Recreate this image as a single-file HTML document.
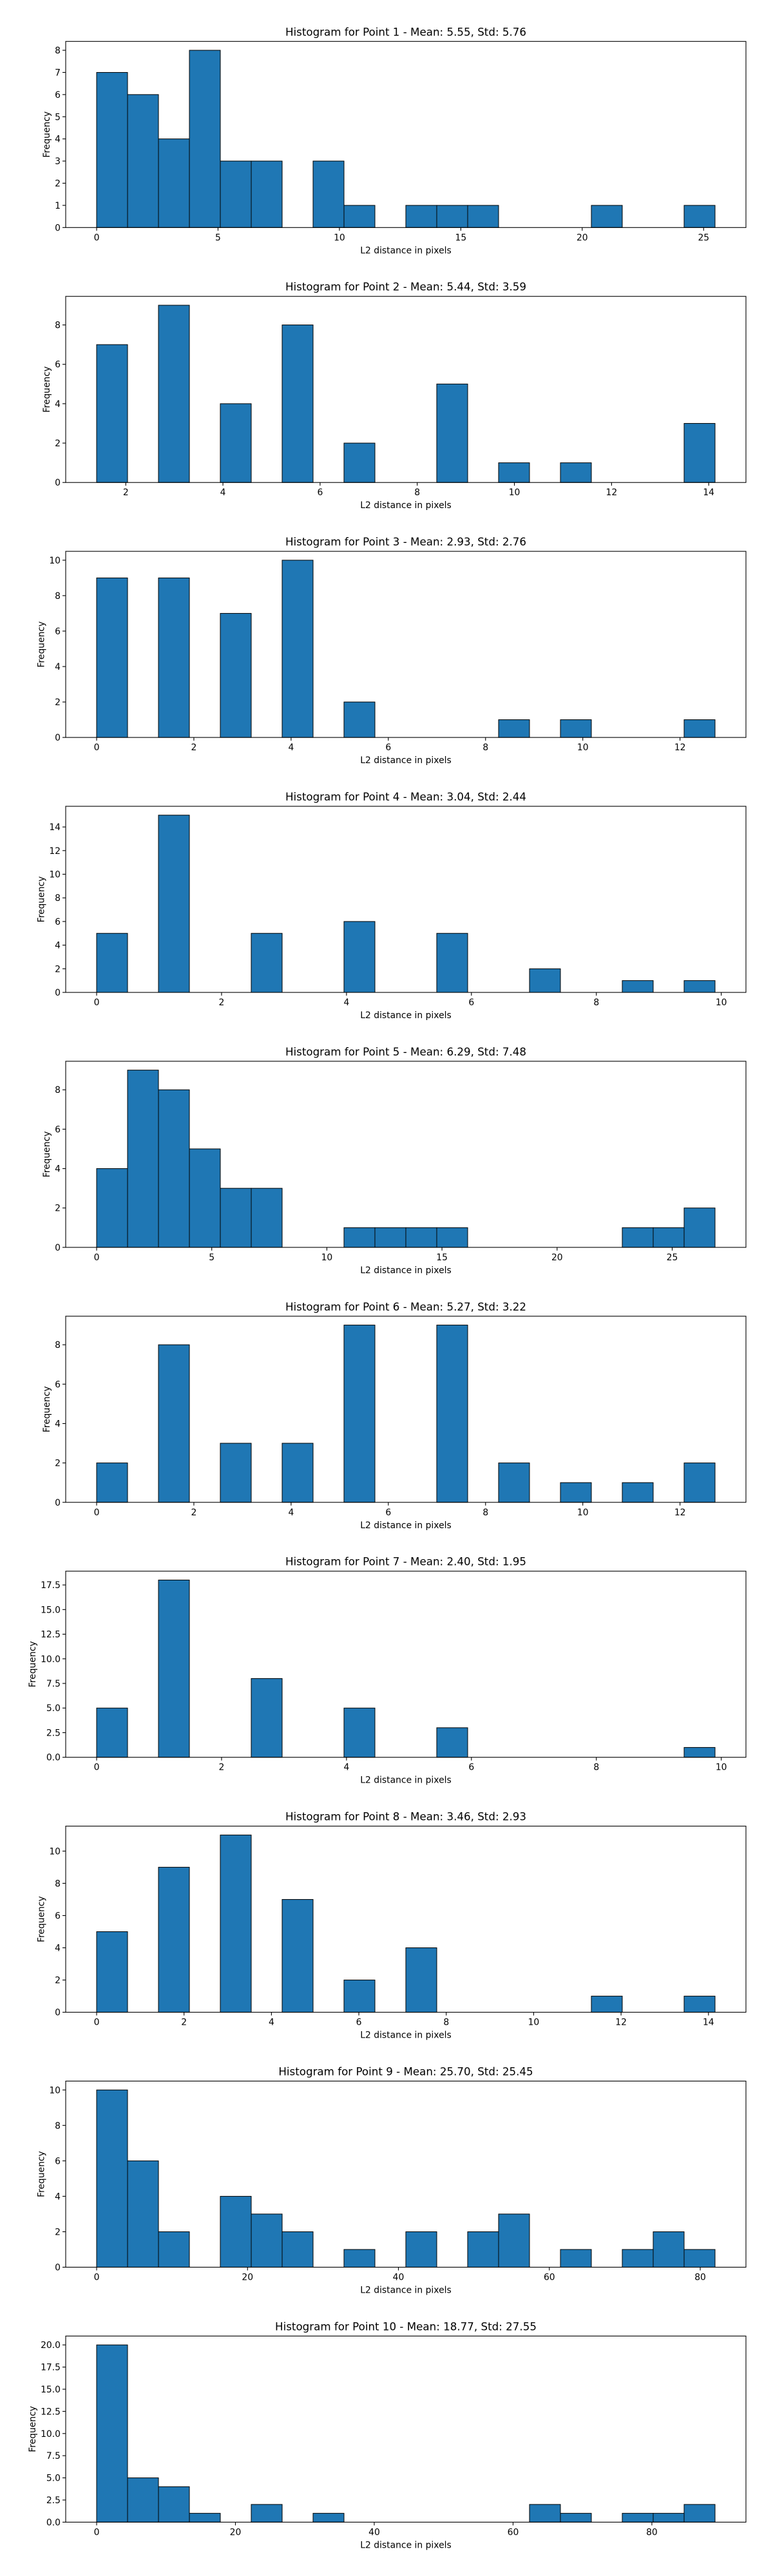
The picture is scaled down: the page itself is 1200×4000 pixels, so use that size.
<!DOCTYPE html>
<html><head><meta charset="utf-8"><style>
html,body{margin:0;padding:0;background:#fff;}
svg{display:block;font-family:"DejaVu Sans","Liberation Sans",sans-serif;}
</style></head>
<body>
<svg id="fig" width="1200" height="4000" xmlns="http://www.w3.org/2000/svg"></svg>
<script>
const titles = [
 "Histogram for Point 1 - Mean: 5.55, Std: 5.76",
 "Histogram for Point 2 - Mean: 5.44, Std: 3.59",
 "Histogram for Point 3 - Mean: 2.93, Std: 2.76",
 "Histogram for Point 4 - Mean: 3.04, Std: 2.44",
 "Histogram for Point 5 - Mean: 6.29, Std: 7.48",
 "Histogram for Point 6 - Mean: 5.27, Std: 3.22",
 "Histogram for Point 7 - Mean: 2.40, Std: 1.95",
 "Histogram for Point 8 - Mean: 3.46, Std: 2.93",
 "Histogram for Point 9 - Mean: 25.70, Std: 25.45",
 "Histogram for Point 10 - Mean: 18.77, Std: 27.55"
];
const counts1 = [7,6,4,8,3,3,0,3,1,0,1,1,1,0,0,0,1,0,0,1];
const counts2 = [7,0,9,0,4,0,8,0,2,0,0,5,0,1,0,1,0,0,0,3];
const counts3 = [9,0,9,0,7,0,10,0,2,0,0,0,0,1,0,1,0,0,0,1];
const counts4 = [5,0,15,0,0,5,0,0,6,0,0,5,0,0,2,0,0,1,0,1];
const counts5 = [4,9,8,5,3,3,0,0,1,1,1,1,0,0,0,0,0,1,1,2];
const counts6 = [2,0,8,0,3,0,3,0,9,0,0,9,0,2,0,1,0,1,0,2];
const counts7 = [5,0,18,0,0,8,0,0,5,0,0,3,0,0,0,0,0,0,0,1];
const counts8 = [5,0,9,0,11,0,7,0,2,0,4,0,0,0,0,0,1,0,0,1];
const counts9 = [10,6,2,0,4,3,2,0,1,0,2,0,2,3,0,1,0,1,2,1];
const counts10 = [20,5,4,1,0,2,0,1,0,0,0,0,0,0,2,1,0,1,1,2];
const dataMin = [0,1.40,0,0,0,0,0,0,0,0];
const dataMax = [25.47,14.13,12.72,9.90,26.86,12.72,9.90,14.15,81.96,89.1];
const xTicks = [[0,5,10,15,20,25],[2,4,6,8,10,12,14],[0,2,4,6,8,10,12],[0,2,4,6,8,10],[0,5,10,15,20,25],[0,2,4,6,8,10,12],[0,2,4,6,8,10],[0,2,4,6,8,10,12,14],[0,20,40,60,80],[0,20,40,60,80]];
const yTicks = [[0,1,2,3,4,5,6,7,8],[0,2,4,6,8],[0,2,4,6,8,10],[0,2,4,6,8,10,12,14],[0,2,4,6,8],[0,2,4,6,8],[0,2.5,5,7.5,10,12.5,15,17.5],[0,2,4,6,8,10],[0,2,4,6,8,10],[0,2.5,5,7.5,10,12.5,15,17.5,20]];
const yDecimals = [0,0,0,0,0,0,1,0,0,1];
const allCounts = [counts1,counts2,counts3,counts4,counts5,counts6,counts7,counts8,counts9,counts10];

const NS = "http://www.w3.org/2000/svg";
const fig = document.getElementById('fig');
function mk(tag, attrs, parent){const e=document.createElementNS(NS,tag);for(const k in attrs)e.setAttribute(k,attrs[k]);(parent||fig).appendChild(e);return e;}

const L=102, R=1158, H=289;
for(let c=0;c<10;c++){
  const top = 64.3 + c*395.9, bot = top+H;
  const g = mk('g',{});
  
  
  const counts = allCounts[c];
  const mn=dataMin[c], mx=dataMax[c], rng=mx-mn;
  const x0=mn-0.05*rng, x1=mx+0.05*rng;
  const ymax=Math.max(...counts)*1.05;
  const sx=v=>L+(v-x0)/(x1-x0)*(R-L);
  const sy=v=>bot-v/ymax*H;
  const bw=rng/counts.length;
  counts.forEach((n,i)=>{
    const xa=sx(mn+i*bw), xb=sx(mn+(i+1)*bw);
    const r=mk('rect',{x:xa,y:sy(n),width:xb-xa,height:bot-sy(n),fill:'#1f77b4',stroke:'#000','stroke-width':1},g);
    
    
  });
  const fr=mk('rect',{x:L,y:top,width:R-L,height:H,fill:'none',stroke:'#000','stroke-width':1.1},g);
  
  
  xTicks[c].forEach(t=>{
    const x=sx(t);
    mk('line',{x1:x,x2:x,y1:bot,y2:bot+5,stroke:'#000','stroke-width':1.1},g);
    const tx=mk('text',{x:x,y:bot+20,'text-anchor':'middle','font-size':'13.9px',fill:'#000'},g);
    tx.textContent=t;
    
    
  });
  let maxw=0;
  yTicks[c].forEach(t=>{
    const y=sy(t);
    mk('line',{x1:L-5,x2:L,y1:y,y2:y,stroke:'#000','stroke-width':1.1},g);
    const s=t.toFixed(yDecimals[c]);
    maxw=Math.max(maxw,s.replace('.','').length*8.8+(s.includes('.')?4.4:0));
    const ty=mk('text',{x:L-8,y:y+5,'text-anchor':'end','font-size':'13.9px',fill:'#000'},g);
    ty.textContent=s;
    
    
  });
  const tt=mk('text',{x:(L+R)/2,y:top-9,'text-anchor':'middle','font-size':'16.7px',fill:'#000'},g);
  tt.textContent=titles[c];
  
  
  const xl=mk('text',{x:(L+R)/2,y:bot+40,'text-anchor':'middle','font-size':'13.9px',fill:'#000'},g);
  xl.textContent='L2 distance in pixels';
  
  
  const yx=L-8-maxw-8;
  const yl=mk('text',{x:yx,y:(top+bot)/2,'text-anchor':'middle','font-size':'13.9px',fill:'#000',transform:'rotate(-90 '+yx+' '+((top+bot)/2)+')'},g);
  yl.textContent='Frequency';
  
  
}
</script>
</body></html>
